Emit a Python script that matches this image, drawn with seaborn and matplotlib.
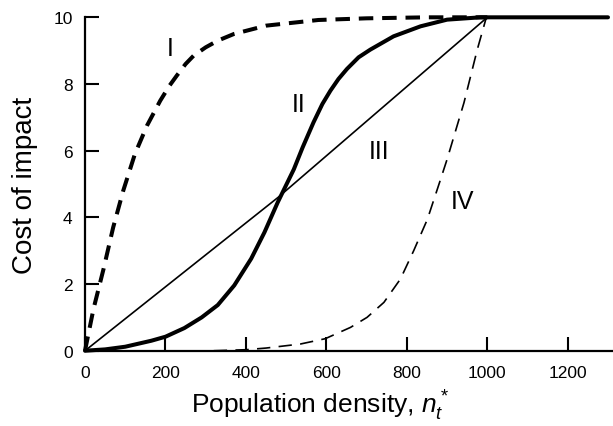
import matplotlib
matplotlib.use("Agg")
import matplotlib.pyplot as plt
import seaborn as sns

# Curve I: steep saturating response (thick dashed)
x_I = [0, 5, 21, 46, 70, 95, 124, 154, 187, 210, 228, 250, 270, 300, 330, 370, 450, 580, 700, 850, 1000]
y_I = [0, 0.3, 1.25, 2.45, 3.7, 4.8, 5.9, 6.75, 7.5, 7.95, 8.25, 8.6, 8.85, 9.1, 9.3, 9.5, 9.75, 9.92, 9.97, 10, 10]

# Curve II: sigmoid (thick solid)
x_II = [0, 50, 100, 165, 200, 247, 290, 330, 371, 413, 446, 479, 519, 541, 568, 590, 610, 630,
        651, 680, 709, 767, 834, 900, 983, 1300]
y_II = [0, 0.04, 0.12, 0.30, 0.42, 0.68, 1.0, 1.37, 1.96, 2.76, 3.55, 4.45, 5.44, 6.1, 6.85, 7.4,
        7.8, 8.15, 8.45, 8.8, 9.03, 9.43, 9.73, 9.93, 10, 10]

# Curve III: linear (thin solid)
x_III = [0, 480, 1000]
y_III = [0, 4.6, 10]

# Curve IV: late rising (thin dashed)
x_IV = [320, 400, 450, 535, 597, 660, 701, 743, 784, 817, 851, 880, 900, 942, 975, 996, 1000]
y_IV = [0, 0.03, 0.08, 0.2, 0.36, 0.7, 1.0, 1.45, 2.15, 3.0, 3.94, 5.0, 5.74, 7.44, 9.03, 9.93, 10]

labels = ["I", "II", "III", "IV"]
label_x = [211, 530, 730, 938]
label_y = [9.08, 7.39, 5.99, 4.49]

sns.set_style("ticks")
plt.rcParams['font.family'] = ['Liberation Sans', 'DejaVu Sans']
plt.rcParams['mathtext.fontset'] = 'custom'
plt.rcParams['mathtext.rm'] = 'Liberation Sans'
plt.rcParams['mathtext.it'] = 'Liberation Sans:italic'
plt.rcParams['text.color'] = 'black'
plt.rcParams['axes.labelcolor'] = 'black'

fig = plt.figure(figsize=(6.13, 4.27), dpi=100)
ax = fig.add_axes([0.1387, 0.1763, 0.8597, 0.7808])

sns.lineplot(x=x_III, y=y_III, ax=ax, color='black', lw=1.2, clip_on=False)
sns.lineplot(x=x_IV, y=y_IV, ax=ax, color='black', lw=1.2, linestyle=(0, (8, 5)), clip_on=False)
sns.lineplot(x=x_I, y=y_I, ax=ax, color='black', lw=2.9, linestyle=(0, (3.6, 2.2)), clip_on=False)
sns.lineplot(x=x_II, y=y_II, ax=ax, color='black', lw=2.9, clip_on=False)

for s, lx, ly in zip(labels, label_x, label_y):
    ax.text(lx, ly, s, fontsize=18, ha='center', va='center', color='black')

ax.set_xlim(0, 1310)
ax.set_ylim(0, 10)
ax.set_xticks([0, 200, 400, 600, 800, 1000, 1200])
ax.set_yticks([0, 2, 4, 6, 8, 10])

sns.despine(ax=ax)
for side in ['left', 'bottom']:
    ax.spines[side].set_linewidth(1.6)
    ax.spines[side].set_color('black')
ax.tick_params(direction='in', length=10, width=1.5, colors='black', labelcolor='black', labelsize=12.5)
ax.tick_params(axis='x', pad=10)
ax.tick_params(axis='y', pad=9)

ax.set_xlabel('Population density, $n_t^*$', fontsize=19, color='black')
ax.set_ylabel('Cost of impact', fontsize=20, color='black')
ax.xaxis.set_label_coords((320 - 85) / (612 - 85), -0.11)
ax.yaxis.set_label_coords(-0.09, 0.5)

plt.savefig('out.png', dpi=100)
plt.close()
